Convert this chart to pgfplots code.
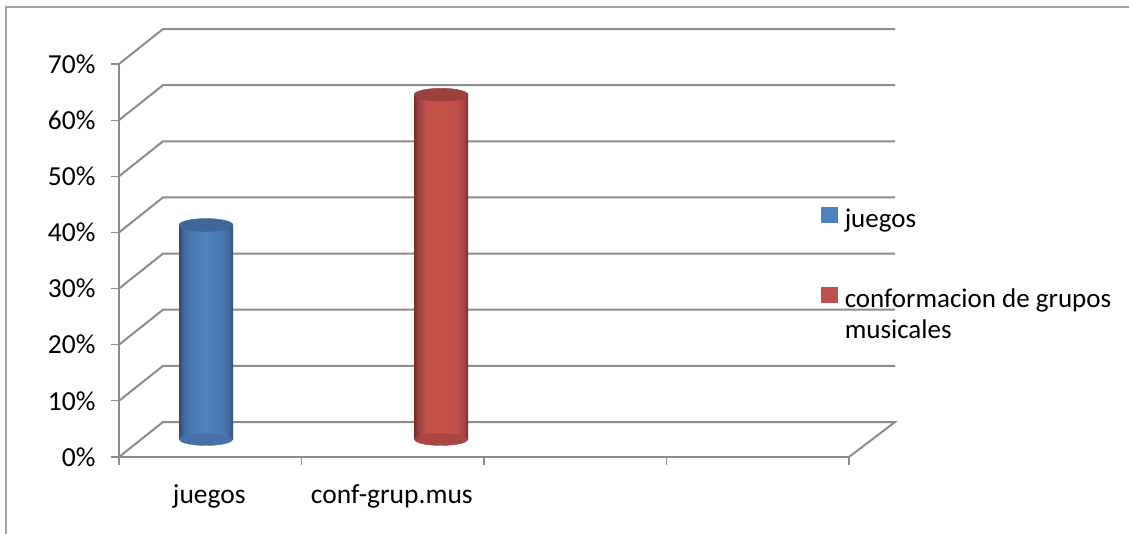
\documentclass[border=0pt]{standalone}
\usepackage{pgfplots}
\pgfplotsset{compat=1.18}
\usepackage{fontspec}
\setmainfont{Carlito}
\definecolor{gridg}{HTML}{8C8C8C}
\definecolor{frameg}{HTML}{A0A0A0}
\definecolor{bl}{HTML}{4F81BD}
\definecolor{rd}{HTML}{C0504D}
\pgfdeclarehorizontalshading{bcyl}{100bp}{color(0bp)=(black!42!bl);color(25bp)=(black!42!bl);color(29bp)=(black!18!bl);color(36bp)=(bl!95!black);color(50bp)=(bl);color(64bp)=(black!5!bl);color(71bp)=(black!18!bl);color(75bp)=(black!38!bl);color(100bp)=(black!38!bl)}
\pgfdeclarehorizontalshading{rcyl}{100bp}{color(0bp)=(black!42!rd);color(25bp)=(black!42!rd);color(29bp)=(black!18!rd);color(36bp)=(rd);color(50bp)=(rd!90!orange);color(64bp)=(rd);color(71bp)=(black!15!rd);color(75bp)=(black!38!rd);color(100bp)=(black!38!rd)}
\pgfdeclareplotmark{btop}{\fill[black!20!bl] (0,0) ellipse (27pt and 6.5pt);}
\pgfdeclareplotmark{rtop}{\fill[black!20!rd] (0,0) ellipse (27pt and 6.5pt);}
\pgfdeclareplotmark{bbot}{\fill[black!12!bl] (0,0) ellipse (26.5pt and 6pt);}
\pgfdeclareplotmark{rbot}{\fill[black!12!rd] (0,0) ellipse (26.5pt and 6pt);}
\begin{document}
\begin{tikzpicture}
\path[use as bounding box] (0,0) rectangle (1129pt,534pt);
\draw[frameg,line width=1.5pt] (6pt,0pt)--(6pt,527pt)--(1129pt,527pt);
\begin{axis}[
  at={(119pt,77pt)},anchor=south west,
  scale only axis,width=730pt,height=393pt,
  xmin=0,xmax=4,ymin=0,ymax=70,clip=false,
  axis lines*=left,
  axis line style={gridg,line width=2pt,-},
  tick style={gridg,line width=1.2pt},
  tick align=outside,major tick length=8pt,
  xtick={0,1,2,3,4},xticklabels={,,,,},
  extra x ticks={0.495,1.495},
  extra x tick labels={juegos,conf-grup.mus},
  extra x tick style={major tick length=0pt,tick label style={yshift=-24pt}},
  ytick={0,10,20,30,40,50,60,70},
  yticklabel={\pgfmathprintnumber{\tick}\%},
  /pgf/number format/assume math mode=true,
  yticklabel style={xshift=-12pt},
  tick label style={font=\fontsize{27.5}{30}\selectfont,black},
  legend style={draw=none,fill=none,at={(axis cs:3.83,45)},anchor=north west,
    font=\fontsize{27}{31}\selectfont,row sep=55pt,column sep=6pt},
  legend cell align=left,
]
\addlegendimage{only marks,mark=square*,mark size=7.8pt,color=bl,mark options={yshift=4pt}}
\addlegendentry{juegos}
\addlegendimage{only marks,mark=square*,mark size=7.8pt,color=rd,mark options={yshift=4pt}}
\addlegendentry{\raisebox{0pt}[0.75em][0.25em]{\begin{tabular}[t]{@{}l@{}}conformacion de grupos\\musicales\end{tabular}}}
% back wall and side gridlines
\addplot[gridg,line width=2pt,forget plot] coordinates {(0,0)(0.241,6.23)(4.252,6.23)(4,0)};
\addplot[gridg,line width=2pt,forget plot] coordinates {(0,10)(0.241,16.23)(4.252,16.23)};
\addplot[gridg,line width=2pt,forget plot] coordinates {(0,20)(0.241,26.23)(4.252,26.23)};
\addplot[gridg,line width=2pt,forget plot] coordinates {(0,30)(0.241,36.23)(4.252,36.23)};
\addplot[gridg,line width=2pt,forget plot] coordinates {(0,40)(0.241,46.23)(4.252,46.23)};
\addplot[gridg,line width=2pt,forget plot] coordinates {(0,50)(0.241,56.23)(4.252,56.23)};
\addplot[gridg,line width=2pt,forget plot] coordinates {(0,60)(0.241,66.23)(4.252,66.23)};
\addplot[gridg,line width=2pt,forget plot] coordinates {(0,70)(0.241,76.23)(4.252,76.23)};
% cylinders
\addplot[only marks,mark=bbot,xshift=21.5pt,yshift=17.5pt,forget plot] coordinates {(0.359,0)};
\addplot[only marks,mark=rbot,xshift=21.5pt,yshift=17.5pt,forget plot] coordinates {(1.647,0)};
\addplot[ybar,bar width=54pt,draw=none,shade,shading=bcyl,xshift=21.5pt,yshift=17.5pt,forget plot] coordinates {(0.359,38.2)};
\addplot[ybar,bar width=54pt,draw=none,shade,shading=rcyl,xshift=21.5pt,yshift=17.5pt,forget plot] coordinates {(1.647,61.4)};
\addplot[only marks,mark=btop,xshift=21.5pt,yshift=17.5pt,forget plot] coordinates {(0.359,38.2)};
\addplot[only marks,mark=rtop,xshift=21.5pt,yshift=17.5pt,forget plot] coordinates {(1.647,61.4)};
\end{axis}
\end{tikzpicture}
\end{document}
